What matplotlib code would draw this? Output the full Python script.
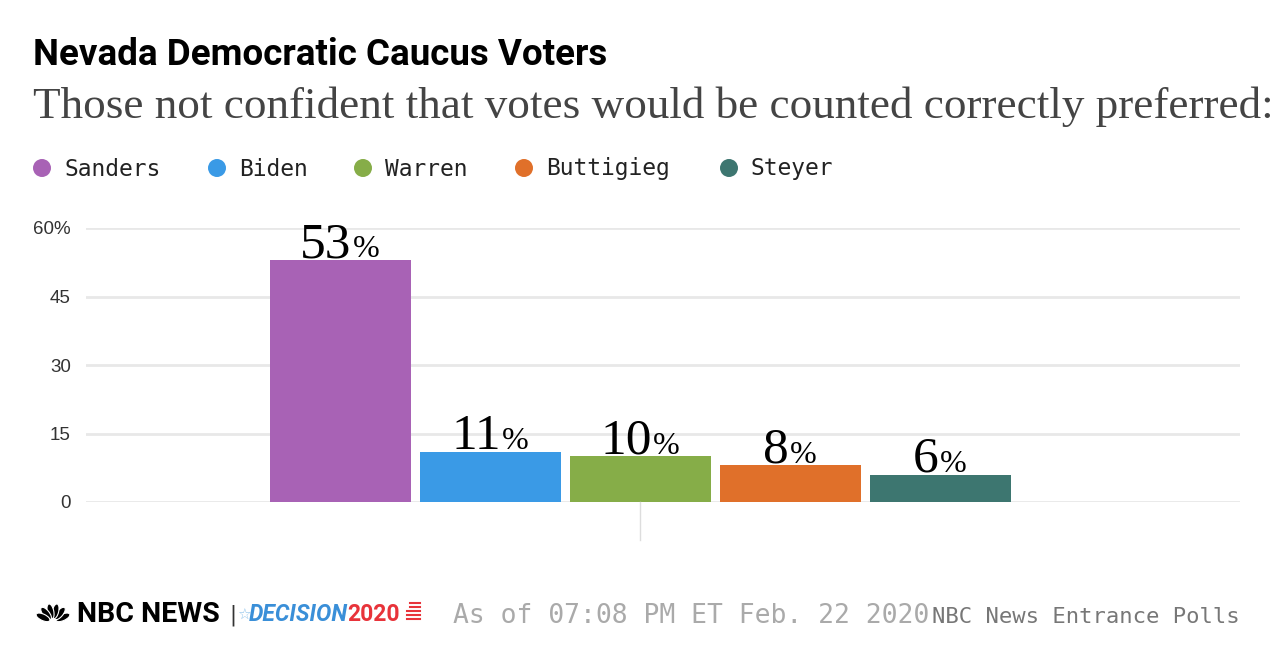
import numpy as np
import matplotlib
matplotlib.use("Agg")
import matplotlib.pyplot as plt
from matplotlib.patches import Ellipse
from matplotlib.offsetbox import TextArea, HPacker, AnnotationBbox

# data
candidates = ['Sanders', 'Biden', 'Warren', 'Buttigieg', 'Steyer']
values = [53, 11, 10, 8, 6]
colors = ['#a862b5', '#3a9ae6', '#86ad48', '#e0702a', '#3d7670']
yticks = [0, 15, 30, 45, 60]
ytick_labels = ['0', '15', '30', '45', '60%']

W, H = 1280, 672
fig = plt.figure(figsize=(W / 100, H / 100), dpi=100)

def fx(px):
    return px / W

def fy(py):
    return 1 - py / H

# Titles
fig.text(fx(33), fy(65), 'Nevada Democratic Caucus Voters',
         family=['Roboto', 'DejaVu Sans'], weight='bold',
         fontsize=26.5, color='#000000', va='baseline')
fig.text(fx(33), fy(118), 'Those not confident that votes would be counted correctly preferred:',
         family=['Liberation Serif', 'DejaVu Serif'], fontsize=32.5, color='#444444', va='baseline')

# Legend
leg_x = [42, 217, 363, 524, 729]
for name, c, x in zip(candidates, colors, leg_x):
    fig.patches.append(Ellipse((fx(x), fy(168)), 18 / W, 18 / H, transform=fig.transFigure,
                               facecolor=c, edgecolor='none'))
    fig.text(fx(x + 22), fy(169), name, family='DejaVu Sans Mono', fontsize=16.5,
             color='#222222', va='center')

# Main axes
ax = fig.add_axes([fx(86), 1 - 502 / H, (1240 - 86) / W, (502 - 228) / H])
x = np.arange(len(candidates))
ax.bar(x, values, width=0.94, color=colors)
ax.set_xlim((86 - 340) / 150, (1240 - 340) / 150)
ax.set_ylim(0, 60)
ax.set_yticks(yticks)
ax.set_yticklabels(ytick_labels, family=['Liberation Sans', 'DejaVu Sans'], fontsize=13.5, color='#333333')
ax.tick_params(axis='y', length=0, pad=11)
ax.set_xticks([])
for s in ax.spines.values():
    s.set_visible(False)
ax.grid(axis='y', color='#e8e8e8', linewidth=2)
ax.set_axisbelow(True)
# small category tick under the middle bar
ax.plot([2, 2], [0, -8.3], color='#dddddd', linewidth=1, clip_on=False)

# value labels
for xi, v in zip(x, values):
    num = TextArea(str(v), textprops=dict(family=['Liberation Serif', 'DejaVu Serif'],
                                          fontsize=37, color='#000000'))
    pct = TextArea('%', textprops=dict(family=['Liberation Serif', 'DejaVu Serif'],
                                       fontsize=23, color='#000000'))
    box = HPacker(children=[num, pct], align='baseline', pad=0, sep=1)
    ab = AnnotationBbox(box, (xi, v), xybox=(0, -6), xycoords='data',
                        boxcoords='offset points', box_alignment=(0.5, 0),
                        frameon=False, annotation_clip=False)
    ax.add_artist(ab)

# Footer logo
lax = fig.add_axes([fx(33), fy(624), 40 / W, 24 / H])
lax.set_xlim(-1, 1)
lax.set_ylim(0, 1.2)
lax.set_aspect('equal')
lax.axis('off')
for ang in np.linspace(25, 155, 6):
    r = np.radians(ang)
    lax.add_patch(Ellipse((0.55 * np.cos(r), 0.1 + 0.55 * np.sin(r)), 0.75, 0.32,
                          angle=ang, facecolor='black', edgecolor='white', linewidth=0.8))

fig.text(fx(77), fy(622), 'NBC NEWS', family=['Roboto', 'DejaVu Sans'],
         weight='bold', fontsize=20.5, color='#000000', va='baseline')
fig.text(fx(229), fy(621), '|', family='DejaVu Sans', fontsize=15, color='#333333', va='baseline')
fig.text(fx(237), fy(620), '\u2606', family='DejaVu Sans', fontsize=11, color='#8fc3ea', va='baseline')
fig.text(fx(249), fy(621), 'DECISION', family=['Roboto', 'DejaVu Sans'],
         weight='bold', style='italic', fontsize=16.5, color='#3a8fd8', va='baseline')
fig.text(fx(347), fy(621), '2020', family=['Roboto', 'DejaVu Sans'],
         weight='bold', fontsize=16.5, color='#e8333a', va='baseline')
for i in range(5):
    yy = 603 + i * 4
    fig.add_artist(plt.Line2D([fx(407 + (3 if i < 2 else 0)), fx(420)], [fy(yy), fy(yy)],
                              color='#e8333a', linewidth=1.5, transform=fig.transFigure))

fig.text(fx(453), fy(623), 'As of 07:08 PM ET Feb. 22 2020', family='DejaVu Sans Mono',
         fontsize=19, color='#aaaaaa', va='baseline')
fig.text(fx(932), fy(623), 'NBC News Entrance Polls', family='DejaVu Sans Mono',
         fontsize=16, color='#777777', va='baseline')

fig.savefig('out.png', dpi=100)
